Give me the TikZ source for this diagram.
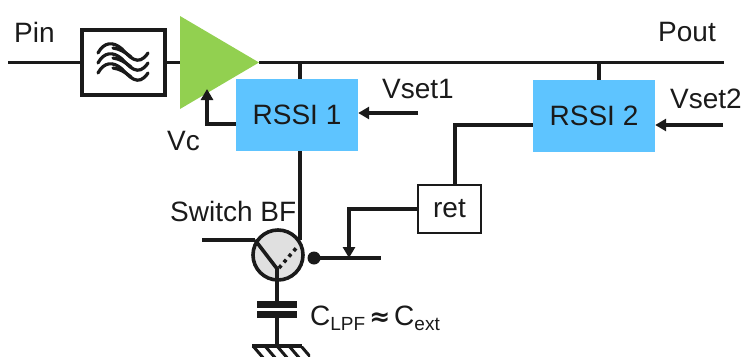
\documentclass[tikz,border=0pt]{standalone}
\usepackage{fontspec}
\setmainfont{Liberation Sans}
\usetikzlibrary{arrows.meta}
\definecolor{txt}{HTML}{1A1A1A}
\definecolor{ampgreen}{HTML}{92D050}
\definecolor{rssiblue}{HTML}{5EC4FF}
\tikzset{
  x=1pt,y=-1pt,
  wire/.style={draw=txt,line width=3.6pt},
  arrowwire/.style={wire,-{Triangle[length=11pt,width=12pt]}},
  rssibox/.style={fill=rssiblue,draw=none,minimum width=122pt,minimum height=72pt,inner sep=0pt,text=txt,font=\fontsize{28}{30}\selectfont},
  label/.style={text=txt,font=\fontsize{28}{30}\selectfont,inner sep=0pt,anchor=base west},
  retbox/.style={fill=white,draw=txt,line width=1.5pt,minimum width=63pt,minimum height=48pt,inner sep=0pt,text=txt,font=\fontsize{28}{30}\selectfont},
  filterbox/.style={fill=white,draw=txt,line width=3.6pt,minimum width=83pt,minimum height=65pt,inner sep=0pt},
  wave/.style={draw=txt,line width=3.2pt,line cap=round},
  plate/.style={fill=txt,draw=none,minimum width=40pt,minimum height=7pt,inner sep=0pt}
}
\begin{document}
\begin{tikzpicture}
\useasboundingbox (0,0) rectangle (744,356);
% input and output nodes
\coordinate (pinL) at (8,62.5);
\coordinate (poutR) at (724,62.5);
\node[filterbox] (filt) at (123.5,62.5) {};
\node[inner sep=0pt,minimum size=0pt] (ampIn) at (180,62.5) {};
\coordinate (ampTip) at (259,62.5);
\node[rssibox] (r1) at (297,115) {RSSI 1};
\node[rssibox] (r2) at (594,116) {RSSI 2};
\node[retbox] (ret) at (449.5,209) {ret};
\coordinate (sw) at (278,255);
\coordinate (vs1) at (418,113);
\coordinate (vs2) at (723,125);
% wires behind
\draw[wire] (pinL) -- (filt.west);
\draw[wire] (filt.east) -- (ampIn);
\draw[wire] (ampTip) -- (poutR);
\draw[wire] (300,62) -- (300,79);
\draw[wire] (599,62) -- (599,80);
% amplifier
\fill[ampgreen] (180,16) -- (259,62.5) -- (180,109) -- cycle;
% filter icon
\foreach \dy in {0,10,20}{
  \draw[wave] (98,\dy+53) .. controls (104,\dy+42) and (113,\dy+41) .. (122,\dy+49)
     .. controls (129,\dy+56) and (138,\dy+68) .. (148,\dy+53);
  \draw[wave] (113,\dy+48) .. controls (120,\dy+49) and (125,\dy+52) .. (131,\dy+57);
}
% RSSI outputs
\draw[wire] (r1.south -| 300,0) -- (300,240);
\draw[arrowwire] (r1.west |- 0,124) -- (207,124) -- (207,89);
\draw[arrowwire] (vs1) -- (r1.east |- vs1);
\draw[arrowwire] (vs2) -- (r2.east |- vs2);
\draw[wire] (r2.west |- vs2) -- (455,125) -- (ret.north -| 455,0);
\draw[arrowwire] (ret.west) -- (349,209) -- (349,258);
% switch
\node[circle,fill=black!12,draw=txt,line width=3.6pt,minimum size=50pt,inner sep=0pt] (swc) at (sw) {};
\draw[wire] (202,240) -- (255,240);
\draw[wire] (255,240) -- (278,270);
\draw[draw=txt,line width=3.6pt,dash pattern=on 3.5pt off 4pt] (279,268) -- (298,246);
\node[circle,fill=txt,minimum size=13pt,inner sep=0pt] (dot) at (314,258) {};
\draw[wire] (dot.center) -- (381,258);
% capacitor and ground
\node[plate] (p1) at (277,304.5) {};
\node[plate] (p2) at (277,314.5) {};
\coordinate (gnd) at (277,346);
\draw[wire] (277,269) -- (p1.north);
\draw[wire] (p2.south) -- (gnd);
\draw[wire] (252,346) -- (302,346);
\begin{scope}
\clip (245,346) rectangle (310,356);
\foreach \hx in {253,265,277,289,301}{
  \draw[draw=txt,line width=3pt] (\hx,346) -- (\hx+12,360);
}
\end{scope}
% labels
\node[label] (tPin) at (14,42) {Pin};
\node[label] (tPout) at (658,41) {Pout};
\node[label] (tV1) at (382,98) {Vset1};
\node[label] (tV2) at (670,108) {Vset2};
\node[label] (tVc) at (167,150) {Vc};
\node[label] (tSw) at (170,221) {Switch BF};
\node[label] (tC) at (310,325) {C\raisebox{-5pt}{\fontsize{19}{20}\selectfont LPF}\hspace{4pt}{\fontspec{DejaVu Sans Bold}\fontsize{25}{20}\selectfont ≈}\hspace{4pt}C\raisebox{-5pt}{\fontsize{19}{20}\selectfont ext}};
\end{tikzpicture}
\end{document}
